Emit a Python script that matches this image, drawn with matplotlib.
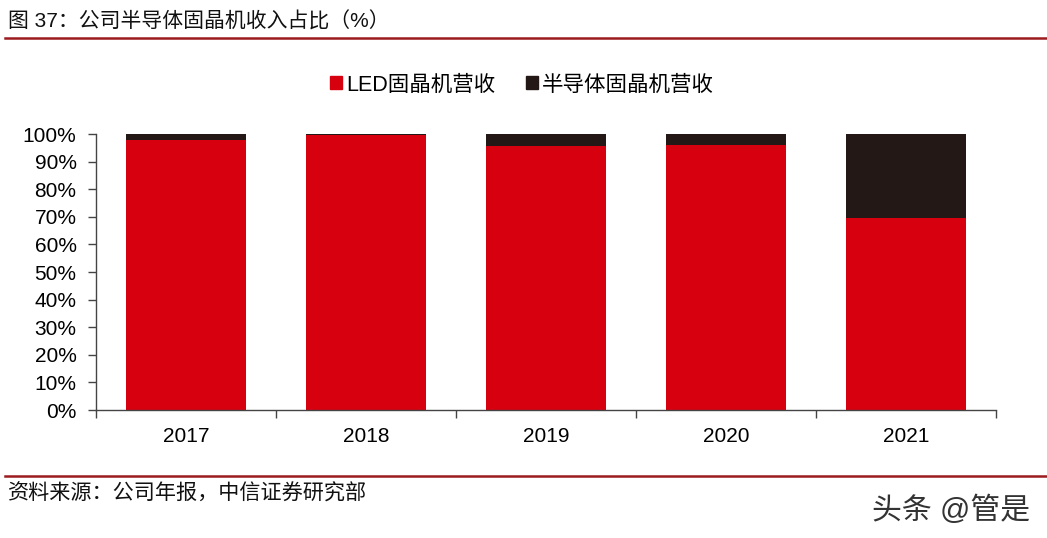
import numpy as np
import matplotlib.pyplot as plt
from matplotlib.patches import Patch

plt.rcParams['font.family'] = ['Liberation Sans', 'Noto Sans CJK SC', 'DejaVu Sans']

# 数据
years = ['2017', '2018', '2019', '2020', '2021']
led_share = [97.7, 99.8, 95.7, 96.0, 69.6]
semi_share = [100 - v for v in led_share]

red = '#d7000f'
dark = '#231815'
rule = '#9b1b1f'

fig = plt.figure(figsize=(10.47, 5.38), dpi=100)
ax = fig.add_axes([96 / 1047, 1 - 410 / 538, 900 / 1047, 276 / 538])

x = np.arange(len(years))
ax.bar(x, led_share, width=0.667, color=red, label='LED固晶机营收')
ax.bar(x, semi_share, width=0.667, bottom=led_share, color=dark, label='半导体固晶机营收')

ax.set_xlim(-0.5, len(years) - 0.5)
ax.set_ylim(0, 100)
ax.set_yticks(np.arange(0, 101, 10))
ax.set_yticklabels([f'{v}%' for v in range(0, 101, 10)], fontsize=15)
ax.set_xticks(x)
ax.set_xticklabels(years, fontsize=15)
ax.set_xticks(np.arange(-0.5, len(years)), minor=True)
ax.tick_params(axis='x', which='major', length=0, pad=12)
ax.tick_params(axis='x', which='minor', length=6, width=1, color='#444444')
ax.tick_params(axis='y', length=6, width=1, color='#444444', pad=8)
for s in ['top', 'right']:
    ax.spines[s].set_visible(False)
for s in ['left', 'bottom']:
    ax.spines[s].set_color('#444444')
    ax.spines[s].set_linewidth(1)

handles = [Patch(color=red, label='LED固晶机营收'), Patch(color=dark, label='半导体固晶机营收')]
fig.legend(handles=handles, loc='center', bbox_to_anchor=(522 / 1047, 1 - 85 / 538),
           ncol=2, frameon=False, fontsize=15.5, handlelength=0.55, handleheight=0.55,
           handletextpad=0.2, columnspacing=1.4)

# 标题与来源
fig.text(8 / 1047, 1 - 22 / 538, '图 37：公司半导体固晶机收入占比（%）', fontsize=15,
         va='center', ha='left', color='#111111')
fig.add_artist(plt.Line2D([5 / 1047, 1], [1 - 38 / 538] * 2, color=rule, lw=1.8))
fig.add_artist(plt.Line2D([5 / 1047, 1], [1 - 476 / 538] * 2, color=rule, lw=1.8))
fig.text(8 / 1047, 1 - 494 / 538, '资料来源：公司年报，中信证券研究部', fontsize=15.2,
         va='center', ha='left', color='#111111')
fig.text(1030 / 1047, 1 - 510 / 538, '头条 @管是', fontsize=21.5,
         va='center', ha='right', color='#333333')

fig.savefig('out.png', dpi=100)
